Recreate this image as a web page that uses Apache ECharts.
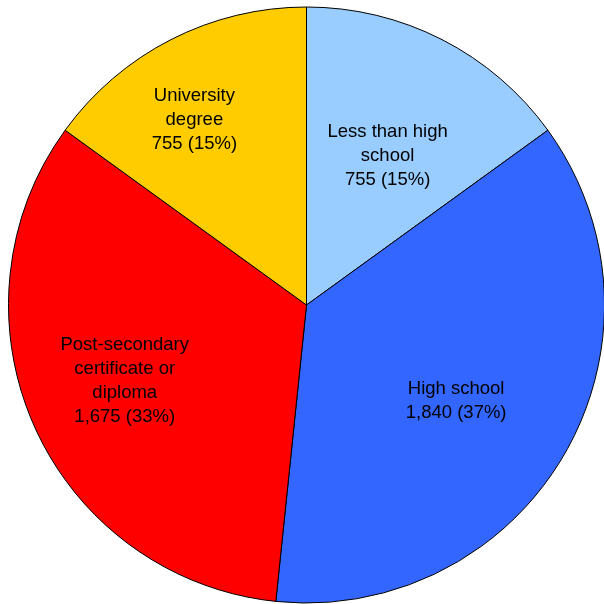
<!DOCTYPE html>
<html>
<head>
<meta charset="utf-8">
<style>
  html, body { margin: 0; padding: 0; background: #ffffff; }
  #chart { width: 604px; height: 604px; }
</style>
<script src="https://cdn.jsdelivr.net/npm/echarts@6/dist/echarts.min.js"></script>
</head>
<body>
<div id="chart"></div>
<script>
// Highest level of education attained
var categories = [
  'Less than high\nschool',
  'High school',
  'Post-secondary\ncertificate or\ndiploma',
  'University\ndegree'
];
var counts = [755, 1840, 1675, 755];
var sliceColors = ['#99CCFF', '#3366FF', '#FF0000', '#FFCC00'];
// nudges applied to each inside label
var labelOffsets = [[12, -14], [18, 20], [-43, 14], [-43, -50]];

function fmt(n) {
  return n.toString().replace(/\B(?=(\d{3})+(?!\d))/g, ',');
}

var chart = echarts.init(document.getElementById('chart'), null, { renderer: 'canvas' });

var seriesData = categories.map(function (name, i) {
  return {
    name: name,
    value: counts[i],
    itemStyle: { color: sliceColors[i] },
    label: { offset: labelOffsets[i] }
  };
});

chart.setOption({
  animation: false,
  backgroundColor: '#ffffff',
  series: [{
    type: 'pie',
    center: [306.5, 305],
    radius: 298,
    startAngle: 90,
    clockwise: true,
    avoidLabelOverlap: false,
    emphasis: { disabled: true },
    itemStyle: { borderColor: '#000000', borderWidth: 1 },
    label: {
      show: true,
      position: 'inside',
      color: '#000000',
      fontFamily: 'Liberation Sans, Arial, sans-serif',
      fontSize: 18.5,
      lineHeight: 24,
      align: 'center',
      formatter: function (p) {
        return p.name + '\n' + fmt(p.value) + ' (' + Math.round(p.percent) + '%)';
      }
    },
    labelLine: { show: false },
    data: seriesData
  }]
});
</script>
</body>
</html>
